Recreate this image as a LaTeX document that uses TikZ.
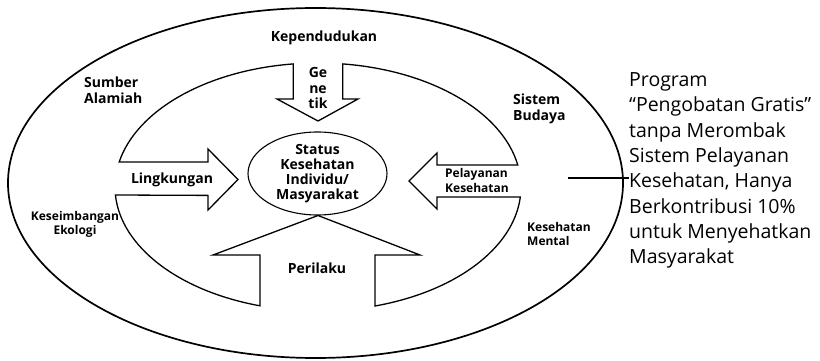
\documentclass[tikz,border=0pt]{standalone}
\usepackage{fontspec}
\setmainfont{Open Sans}
\usetikzlibrary{arrows,shapes,positioning,calc}

\begin{document}
\begin{tikzpicture}[x=1pt, y=-1pt,
                      faktor/.style = {
                        font=\fontsize{14}{15.5}\selectfont\bfseries,
                        align=center, inner sep=0pt
                      },
                      faktorkiri/.style = {
                        faktor, align=left
                      },
                      kecil/.style = {
                        font=\fontsize{12}{14}\selectfont\bfseries,
                        align=left, inner sep=0pt
                      },
                      inti/.style = {
                        ellipse, draw, line width=1.1pt,
                        minimum width=139pt, minimum height=83pt,
                        inner sep=0pt,
                        font=\fontsize{14}{15}\selectfont\bfseries,
                        align=center
                      },
                      lingkaran/.style = {
                        line width=1.3pt, line join=miter
                      },
                      catatan/.style = {
                        font=\fontsize{19.5}{25.3}\selectfont,
                        align=left, inner sep=0pt
                      }]
    \useasboundingbox (0,0) rectangle (820,361);

    \draw[line width=1.7pt] (315.5,183) ellipse [x radius=307.5, y radius=175];

    \coordinate (c) at (318,187);
    \draw[lingkaran]
      ($(c)+(263:203 and 124)$)
        arc[start angle=263, end angle=191.6, x radius=203, y radius=124]
        -- (208,162) -- (208,149) -- (238,179.5) -- (208,210) -- (208,195.4)
      -- ($(c)+(176.3:203 and 124)$)
        arc[start angle=176.3, end angle=106.6, x radius=203, y radius=124]
        -- (260,255) -- (213,255) -- (318,215.5) -- (420,255) -- (375,255)
      -- ($(c)+(73.7:203 and 124)$)
        arc[start angle=73.7, end angle=4.6, x radius=203, y radius=124]
        -- (437,197) -- (437,209) -- (409,181) -- (437,153) -- (437,165)
      -- ($(c)+(-10.2:203 and 124)$)
        arc[start angle=-10.2, end angle=-83, x radius=203, y radius=124]
        -- (342.7,99) -- (358,99) -- (318,121) -- (277,99) -- (293.3,99)
      -- cycle;

    \node(status)[inti, fill=white] at (317.5,173.5)
        {Status\\Kesehatan\\Individu/\\Masyarakat};

    \node(kependudukan)[faktor] at (324,38) {Kependudukan};
    \node(genetik)[faktor] at (318,88) {Ge\\ne\\tik};
    \node(sumber)[faktorkiri, anchor=west] at (84,90) {Sumber\\Alamiah};
    \node(lingkungan)[faktor] at (172,180) {Lingkungan};
    \node(ekologi)[kecil, align=center] at (75,224) {Keseimbangan\\Ekologi};
    \node(perilaku)[faktor] at (317,268) {Perilaku};
    \node(budaya)[faktorkiri, font=\fontsize{14}{16}\selectfont\bfseries, anchor=west]
        at (513,108.5) {Sistem\\Budaya};
    \node(pelayanan)[kecil, font=\fontsize{12}{15}\selectfont\bfseries, anchor=west]
        at (445,180.5) {Pelayanan\\Kesehatan};
    \node(mental)[kecil, anchor=west] at (527,234) {Kesehatan\\Mental};

    \node(program)[catatan, anchor=west] at (629,170.5)
        {Program\\``Pengobatan Gratis''\\tanpa Merombak\\Sistem Pelayanan\\
         Kesehatan, Hanya\\Berkontribusi 10\%\\untuk Menyehatkan\\Masyarakat};

    \coordinate (ujung) at (568,178);
    \draw[line width=1.6pt] (ujung) -- (program.west |- ujung);
\end{tikzpicture}
\end{document}
